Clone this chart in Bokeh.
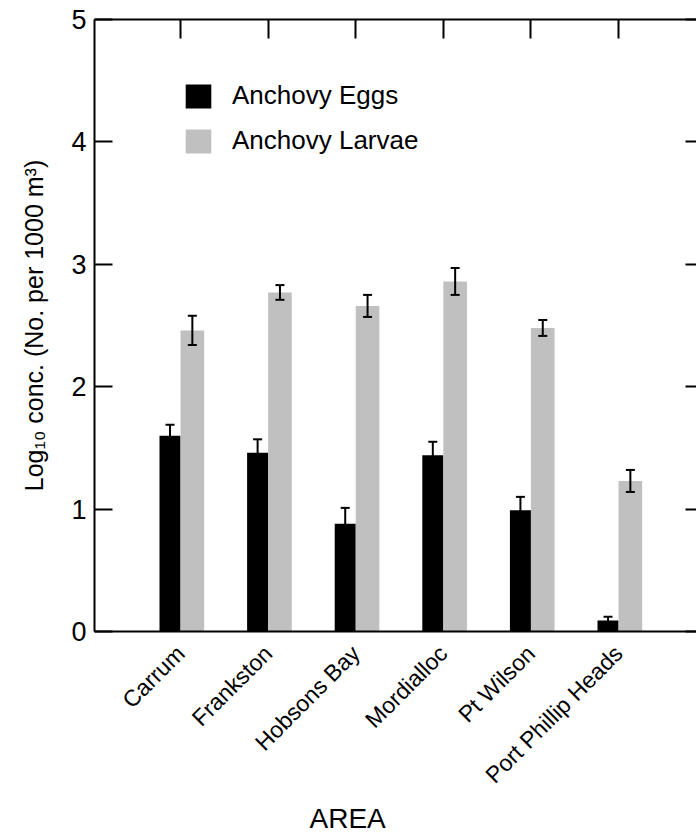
import math
from bokeh.plotting import figure
from bokeh.models import (ColumnDataSource, Range1d, FixedTicker, LinearAxis,
                          Whisker, TeeHead, Legend, LegendItem, Title,
                          CustomLabelingPolicy)
from bokeh.transform import dodge
from bokeh.embed import file_html
from bokeh.resources import INLINE

# ---- data ----
areas = ["Carrum", "Frankston", "Hobsons Bay", "Mordialloc", "Pt Wilson", "Port Phillip Heads"]
eggs = [1.60, 1.46, 0.88, 1.44, 0.99, 0.09]
eggs_se = [0.09, 0.11, 0.13, 0.11, 0.11, 0.03]
larvae = [2.46, 2.77, 2.66, 2.86, 2.48, 1.23]
larvae_se = [0.12, 0.06, 0.09, 0.11, 0.065, 0.09]
y_ticks = [0, 1, 2, 3, 4, 5]
series_names = ["Anchovy Eggs", "Anchovy Larvae"]
x_title = "AREA"

FONT = "Liberation Sans"
idx = list(range(len(areas)))

src = ColumnDataSource(dict(
    x=idx,
    eggs=eggs,
    larvae=larvae,
    eggs_lo=[v - s for v, s in zip(eggs, eggs_se)],
    eggs_hi=[v + s for v, s in zip(eggs, eggs_se)],
    larvae_lo=[v - s for v, s in zip(larvae, larvae_se)],
    larvae_hi=[v + s for v, s in zip(larvae, larvae_se)],
))

p = figure(width=696, height=836,
           x_range=Range1d(-0.982, 5.89), y_range=Range1d(0, 5),
           output_backend="svg", toolbar_location=None,
           min_border_left=94, min_border_right=0,
           min_border_top=19, min_border_bottom=205)
p.grid.visible = False
p.outline_line_color = None
p.background_fill_color = "white"

hide_all = CustomLabelingPolicy(code="for (const i of Array.from(indices)) indices.unset(i); return indices")

# left axis
ya = p.yaxis[0]
ya.ticker = FixedTicker(ticks=y_ticks)
ya.major_tick_in = 18
ya.major_tick_out = 0
ya.minor_tick_in = 0
ya.minor_tick_out = 0
ya.axis_line_width = 2
ya.axis_line_color = "black"
ya.major_tick_line_width = 2
ya.major_tick_line_color = "black"
ya.major_label_text_font = FONT
ya.major_label_text_font_size = "27px"
ya.major_label_text_color = "black"
ya.major_label_standoff = 8
ya.axis_label = "Log\u2081\u2080 conc. (No. per 1000 m\u00b3)"
ya.axis_label_text_font = FONT
ya.axis_label_text_font_size = "25px"
ya.axis_label_text_font_style = "normal"
ya.axis_label_text_color = "black"
ya.axis_label_standoff = 20

# bottom axis
xa = p.xaxis[0]
xa.ticker = FixedTicker(ticks=idx)
xa.major_label_overrides = {i: a for i, a in zip(idx, areas)}
xa.major_tick_in = 0
xa.major_tick_out = 0
xa.minor_tick_in = 0
xa.minor_tick_out = 0
xa.axis_line_width = 2
xa.axis_line_color = "black"
xa.major_label_orientation = math.pi / 4
xa.major_label_text_font = FONT
xa.major_label_text_font_size = "23px"
xa.major_label_text_color = "black"
xa.major_label_standoff = 18

# top axis (ticks only)
top = LinearAxis(ticker=FixedTicker(ticks=idx), major_tick_in=19, major_tick_out=0,
                 minor_tick_in=0, minor_tick_out=0, axis_line_width=2,
                 axis_line_color="black", major_tick_line_color="black",
                 major_tick_line_width=2, major_label_text_font_size="10px",
                 major_label_overrides={i: "" for i in idx},
                 major_label_policy=hide_all, major_label_standoff=0)
p.add_layout(top, "above")

# right axis (ticks only)
right = LinearAxis(ticker=FixedTicker(ticks=y_ticks), major_tick_in=11, major_tick_out=0,
                   minor_tick_in=0, minor_tick_out=0, axis_line_color=None,
                   major_tick_line_color="black",
                   major_tick_line_width=2, major_label_text_font_size="10px",
                   major_label_overrides={t: "" for t in y_ticks},
                   major_label_policy=hide_all, major_label_standoff=0)
p.add_layout(right, "right")

# bars
r1 = p.vbar(x=dodge("x", -0.12), top="eggs", width=0.24, bottom=0, source=src,
            fill_color="black", line_color=None)
r2 = p.vbar(x=dodge("x", 0.135), top="larvae", width=0.27, bottom=0, source=src,
            fill_color="#c0c0c0", line_color=None)

for base, lo, hi in [(dodge("x", -0.12), "eggs_lo", "eggs_hi"),
                     (dodge("x", 0.135), "larvae_lo", "larvae_hi")]:
    w = Whisker(source=src, base=base, lower=lo, upper=hi, dimension="height",
                line_width=2, line_color="black", level="overlay",
                upper_head=TeeHead(size=9, line_width=2, line_color="black"),
                lower_head=TeeHead(size=9, line_width=2, line_color="black"))
    p.add_layout(w)

legend = Legend(items=[LegendItem(label=series_names[0], renderers=[r1]),
                       LegendItem(label=series_names[1], renderers=[r2])],
                location=(88, 475), glyph_width=32, glyph_height=30,
                label_standoff=18, spacing=14, padding=0, label_height=26,
                label_text_font=FONT, label_text_font_size="26px",
                label_text_color="black",
                border_line_color=None, background_fill_alpha=0)
p.add_layout(legend)

t = Title(text=x_title, align="left", offset=215, text_font=FONT,
          text_font_size="28px", text_font_style="normal", text_color="black",
          standoff=0)
p.add_layout(t, "below")

open("out.html", "w").write(file_html(p, INLINE))
